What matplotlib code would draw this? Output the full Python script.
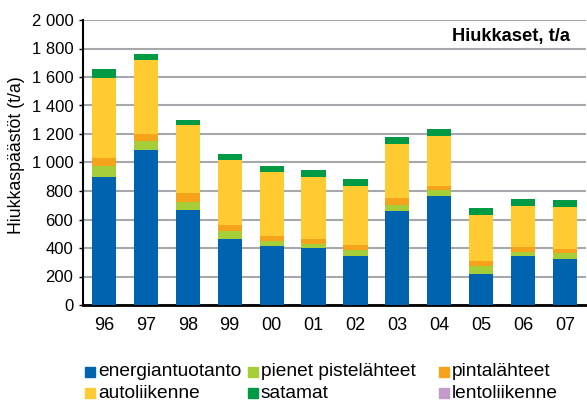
import matplotlib
matplotlib.use("Agg")
import matplotlib.pyplot as plt
from matplotlib.patches import Rectangle
import numpy as np

plt.rcParams['font.family'] = ['Liberation Sans', 'DejaVu Sans']

years = ["96", "97", "98", "99", "00", "01", "02", "03", "04", "05", "06", "07"]
energiantuotanto = [900, 1090, 667, 463, 414, 400, 344, 660, 765, 218, 344, 323]
pienet_pistelahteet = [75, 58, 58, 53, 35, 28, 42, 42, 42, 58, 30, 42]
pintalahteet = [57, 54, 61, 45, 35, 35, 35, 49, 28, 33, 33, 28]
autoliikenne = [561, 519, 477, 457, 449, 435, 414, 379, 351, 323, 288, 295]
satamat = [63, 42, 35, 42, 42, 49, 49, 49, 49, 49, 49, 49]
lentoliikenne = [0, 0, 0, 0, 0, 0, 0, 0, 0, 0, 0, 0]

series_names = ["energiantuotanto", "pienet pistelähteet", "pintalähteet",
                "autoliikenne", "satamat", "lentoliikenne"]
series_vals = [energiantuotanto, pienet_pistelahteet, pintalahteet,
               autoliikenne, satamat, lentoliikenne]
colors = ["#0063B0", "#A6CE39", "#F7A21B", "#FFCB31", "#009A44", "#C39BC8"]

W, H = 587, 401
fig = plt.figure(figsize=(W / 100, H / 100), dpi=100)
ax = fig.add_axes([83 / W, 1 - 305 / H, 503 / W, 285 / H])

x = np.arange(len(years))
bottom = np.zeros(len(years))
for name, vals, c in zip(series_names, series_vals, colors):
    ax.bar(x, vals, width=0.575, bottom=bottom, color=c, label=name, zorder=3)
    bottom += np.array(vals)

ax.set_xlim(-0.5, len(years) - 0.5)
ax.set_ylim(0, 2000)
ax.set_yticks(np.arange(0, 2001, 200))
ax.set_yticklabels([f"{v:,}".replace(",", " ") for v in range(0, 2001, 200)], fontsize=12)
ax.set_xticks(x)
ax.set_xticklabels(years, fontsize=13)
ax.tick_params(axis='x', length=0, pad=9)
ax.tick_params(axis='y', length=3, width=1, direction='out', pad=4)
ax.yaxis.grid(True, color="#A6A8AB", linewidth=1.5, zorder=0)
ax.set_axisbelow(True)
for s in ["top", "right"]:
    ax.spines[s].set_visible(False)
ax.spines["left"].set_linewidth(1.5)
ax.spines["bottom"].set_linewidth(2)
ax.set_ylabel("Hiukkaspäästöt (t/a)", fontsize=12.8)
ax.yaxis.set_label_coords((25 - 83) / 503, (305 - 155) / 285)

ax.text((570 - 83) / 503, (305 - 37) / 285, "Hiukkaset, t/a", transform=ax.transAxes,
        ha="right", va="center", fontsize=13.2, fontweight="bold")

# legend laid out as in the reference (3 columns, 2 rows)
leg_x = [85, 248, 439]
leg_y = [371.5, 393]
for i, (name, c) in enumerate(zip(series_names, colors)):
    row, col = divmod(i, 3)
    mx, my = leg_x[col], leg_y[row]
    fig.add_artist(Rectangle((mx / W, 1 - (my + 5) / H), 10 / W, 10 / H,
                             transform=fig.transFigure, color=c))
    fig.text((mx + 13) / W, 1 - my / H, name, ha="left", va="center", fontsize=13.8)

fig.savefig("out.png", dpi=100)
